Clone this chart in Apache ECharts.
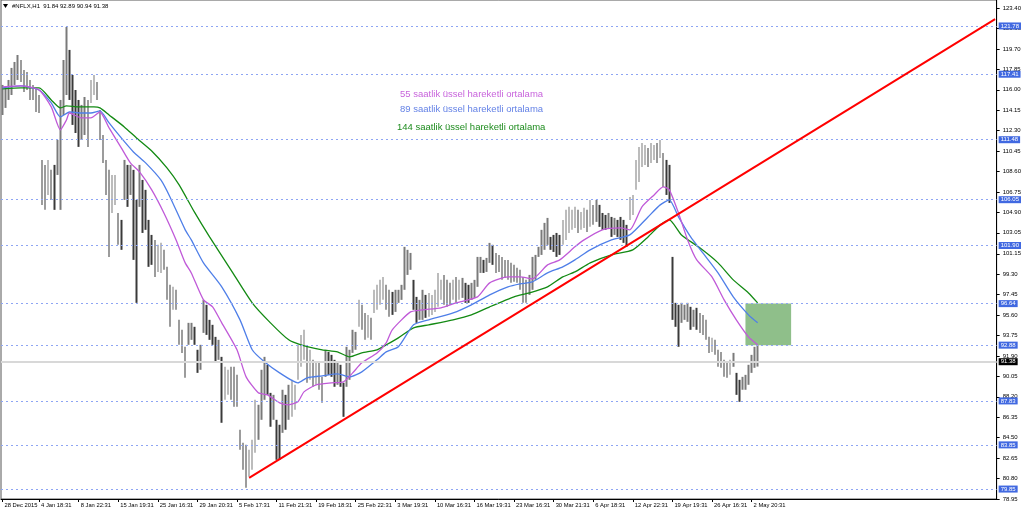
<!DOCTYPE html>
<html><head><meta charset="utf-8">
<script src="https://cdn.jsdelivr.net/npm/echarts@6.0.0/dist/echarts.min.js"></script>
<style>html,body{margin:0;padding:0;background:#fff}#c{width:1024px;height:514px}</style>
</head><body><div id="c"></div>
<script>
// ---- data ----
const barHighs = [
116.44,116.17,116.89,117.98,118.52,119.15,118.70,117.80,117.61,116.89,
116.44,116.17,115.53,109.65,109.20,109.65,108.75,109.20,111.46,115.08,
118.70,121.69,119.61,117.34,115.98,115.08,114.63,115.35,115.08,116.89,
117.34,116.71,114.18,111.91,109.65,108.75,108.29,108.29,104.85,104.22,
109.65,109.20,109.20,108.75,106.03,109.20,107.84,106.94,104.22,102.86,
102.41,101.96,102.14,101.51,99.97,98.34,98.16,97.89,95.17,94.27,
92.73,94.90,94.90,94.54,92.46,92.91,96.98,96.53,95.17,94.72,
93.63,93.36,91.82,90.92,90.65,90.92,90.92,90.19,85.22,84.04,
83.86,83.41,84.31,87.93,87.48,90.65,91.82,91.10,88.56,88.38,
86.12,85.67,88.84,88.38,89.29,89.74,89.29,92.91,93.81,94.27,
92.73,92.46,91.55,91.37,91.28,90.01,92.46,92.27,92.00,91.55,
91.37,91.10,89.47,92.73,92.46,94.27,94.08,96.98,96.53,95.80,
95.62,95.35,97.89,98.34,98.79,99.06,98.34,97.89,97.70,97.89,
97.89,98.34,101.78,101.51,101.23,98.79,97.25,96.98,97.89,97.43,
97.61,97.43,97.89,99.42,98.79,99.24,98.79,98.52,98.79,99.06,
98.79,98.97,98.52,98.34,98.52,98.79,100.87,100.87,100.60,100.78,
102.14,101.96,101.23,101.05,100.87,100.60,100.60,100.33,100.15,99.88,
99.70,99.06,98.79,99.24,100.87,101.05,101.78,103.32,103.95,104.40,
102.68,102.86,103.04,102.86,104.22,105.13,105.40,105.13,105.40,105.13,
104.94,105.31,105.13,106.03,105.58,106.03,105.58,104.85,104.67,104.85,
104.49,104.40,104.22,104.49,104.22,103.77,106.30,106.48,109.65,110.83,
111.19,111.01,110.74,111.19,111.01,111.19,111.46,110.28,109.65,109.20,
100.87,96.71,96.53,96.71,96.53,96.71,96.35,96.08,96.26,95.80,
95.62,95.17,93.63,93.54,93.36,92.46,92.27,91.55,91.37,91.55,
92.18,90.37,89.74,90.01,90.19,91.10,92.00,92.73,92.89
];
const barLows = [
113.72,114.36,115.08,115.53,116.44,116.89,116.71,115.80,115.98,115.08,
115.08,113.99,113.90,105.58,105.13,106.48,106.03,105.13,108.29,105.13,
113.72,115.53,115.08,112.82,112.09,110.83,111.46,111.91,110.83,114.81,
115.53,115.08,111.46,109.38,106.48,100.87,104.85,105.58,101.96,101.51,
106.03,105.40,106.48,100.60,96.71,105.40,103.04,103.32,99.97,100.15,
99.06,99.51,99.42,99.70,96.98,94.54,96.08,96.08,92.91,92.18,
89.92,92.91,93.36,92.91,90.37,90.65,93.99,93.81,93.36,92.91,
91.28,91.55,85.85,87.93,88.38,87.93,87.30,87.30,83.41,81.60,
79.97,80.96,81.60,83.13,84.31,86.12,87.93,88.38,85.49,86.12,
82.50,82.50,84.94,85.22,86.12,86.39,87.03,89.74,90.92,91.55,
89.47,89.74,89.11,89.29,88.84,87.66,90.01,90.19,90.01,89.11,
89.29,89.11,86.39,89.11,89.74,92.18,92.46,94.54,94.27,93.36,
93.54,93.36,95.80,96.08,96.53,96.98,96.08,95.44,95.62,95.89,
96.71,96.98,97.89,99.24,99.70,96.08,94.90,95.17,95.17,95.35,
95.44,95.62,95.89,96.35,96.98,96.53,96.35,96.53,96.98,96.71,
96.98,97.16,96.71,96.71,96.98,97.16,98.16,99.42,99.42,99.51,
100.33,100.15,99.42,99.51,98.79,98.97,98.79,98.52,98.61,98.52,
97.89,96.71,96.71,97.43,97.89,98.79,100.87,101.05,101.51,101.96,
101.51,101.32,100.87,101.05,101.96,102.41,103.04,103.32,103.49,103.04,
103.32,103.49,103.13,103.59,103.77,104.04,103.59,103.32,103.32,103.49,
102.68,102.86,102.68,102.41,102.14,101.78,104.22,104.67,106.94,107.66,
109.02,109.20,109.02,109.38,109.65,109.38,109.83,107.21,106.48,105.76,
95.17,94.54,92.73,94.90,95.17,94.99,94.27,94.54,94.27,93.99,
93.81,93.36,92.18,92.27,92.00,90.92,90.83,90.01,89.92,90.19,
90.92,88.38,87.75,88.84,88.84,89.29,90.37,90.83,90.94
];
// EMA curves: [bar index, price]
const ema55 = [[0,116.26],[6,116.35],[12,115.98],[16,114.45],[19,112.37],[21,113.27],[22,113.90],[26,113.45],[29,113.45],[32,113.99],[35,112.55],[39,110.74],[42,109.38],[45,108.57],[49,106.94],[53,104.85],[57,102.41],[60,100.33],[62,99.42],[66,96.98],[69,96.35],[72,94.90],[77,92.46],[80,90.01],[84,88.57],[87,88.38],[91,87.66],[94,87.48],[97,87.75],[99,88.65],[103,89.29],[108,89.47],[112,89.56],[115,90.37],[118,91.28],[123,92.18],[126,93.09],[128,94.27],[134,95.89],[138,96.08],[144,96.26],[149,96.71],[156,97.25],[160,98.52],[166,99.06],[170,99.06],[174,98.88],[179,100.15],[183,100.60],[188,101.78],[191,102.41],[197,103.32],[203,103.49],[206,103.32],[210,105.40],[214,106.48],[217,107.21],[219,106.94],[222,104.85],[225,102.41],[228,100.60],[233,99.06],[237,96.98],[241,95.17],[245,93.63],[248,92.91]];
const ema89 = [[0,116.17],[6,116.35],[12,115.98],[16,114.81],[19,113.54],[22,113.99],[26,113.90],[29,113.90],[32,114.09],[35,113.00],[39,111.64],[43,110.37],[47,109.38],[52,107.84],[55,106.30],[60,103.32],[62,102.41],[66,100.33],[72,98.16],[78,95.17],[82,92.46],[86,91.37],[91,90.37],[97,89.47],[100,89.92],[105,90.10],[110,90.28],[114,90.01],[118,90.46],[123,91.55],[126,92.27],[130,92.73],[135,94.72],[140,95.17],[148,95.80],[154,96.53],[160,97.43],[166,98.16],[170,98.43],[174,98.61],[179,99.42],[184,99.97],[188,100.60],[193,101.51],[200,102.41],[206,102.86],[212,104.49],[216,105.58],[219,106.03],[222,104.49],[226,102.68],[230,101.23],[235,99.42],[240,97.25],[245,95.62],[248,94.90]];
const ema144 = [[0,116.08],[6,116.17],[12,116.17],[16,115.08],[19,114.36],[21,114.54],[25,114.45],[30,114.45],[32,114.36],[35,113.72],[40,112.64],[44,111.64],[49,110.46],[54,108.93],[58,107.39],[63,104.94],[68,102.68],[75,99.70],[82,96.71],[88,94.90],[94,93.36],[98,92.91],[105,92.46],[110,92.27],[114,91.82],[118,92.18],[123,92.46],[126,92.91],[130,93.54],[135,94.45],[140,94.72],[148,95.17],[154,95.62],[160,96.35],[168,97.25],[173,97.61],[179,98.16],[184,99.06],[188,99.51],[193,100.33],[200,101.05],[207,101.51],[212,102.68],[216,103.77],[219,104.22],[223,102.86],[229,101.69],[235,100.33],[240,98.79],[245,97.61],[248,96.71]];
const trendLine = [[81,80.87],[326,122.40]];
const levelPrices = [121.78,117.41,111.48,106.05,101.90,96.64,92.88,87.83,83.85,79.85];
const lastPrice = 91.38;
const zoneBars = ['244','259'];
const zonePrices = [96.64,92.88];
const xLabelIdx = [0,12,25,38,51,64,77,90,103,116,129,142,155,168,181,194,207,220,233,246];
const xLabelText = ['28 Dec 2015','4 Jan 18:31','8 Jan 22:31','15 Jan 19:31','25 Jan 16:31','29 Jan 20:31','5 Feb 17:31','11 Feb 21:31','19 Feb 18:31','25 Feb 22:31','3 Mar 19:31','10 Mar 16:31','16 Mar 19:31','23 Mar 16:31','30 Mar 21:31','6 Apr 18:31','12 Apr 22:31','19 Apr 19:31','26 Apr 16:31','2 May 20:31'];
const yTickValues = [78.95,80.80,82.65,84.50,86.35,88.20,90.05,91.90,93.75,95.60,97.45,99.30,101.15,103.05,104.90,106.75,108.60,110.45,112.30,114.15,116.00,117.85,119.70,121.55,123.40];
const titleText = '#NFLX,H1  91.84 92.89 90.94 91.38';
const legendTexts = ['55 saatlik üssel hareketli ortalama','89 saatlik üssel hareketli ortalama','144 saatlik üssel hareketli ortalama'];

// ---- build ----
const N = 327;
const categories = Array.from({length: N}, (_, i) => String(i));
const labelMap = {}; xLabelIdx.forEach((k, j) => labelMap[k] = xLabelText[j]);
const isLabel = (i) => labelMap[i] !== undefined;
const candleData = barHighs.map((h, i) => {
  const l = barLows[i];
  const mid = (h + l) / 2;
  const pm = i ? (barHighs[i-1] + barLows[i-1]) / 2 : mid;
  return mid >= pm ? [l, h, l, h] : [h, l, l, h];
});
const FONT = 'Liberation Sans';
const chart = echarts.init(document.getElementById('c'), null, {renderer: 'canvas'});
chart.setOption({
  animation: false,
  backgroundColor: '#fff',
  grid: {left: 1, right: 27, top: 0, bottom: 15, show: true, borderColor: '#555', borderWidth: 1},
  xAxis: {
    type: 'category', data: categories, boundaryGap: true,
    axisLine: {show: true, lineStyle: {color: '#000', width: 1}},
    axisTick: {show: true, alignWithLabel: true, interval: (i) => isLabel(i), length: 3, lineStyle: {color: '#000'}},
    axisLabel: {interval: (i) => isLabel(i), formatter: (v, i) => labelMap[i] || '', align: 'left', padding: [0, 0, 0, 2],
      fontSize: 5.8, fontFamily: FONT, color: '#000', margin: 3},
    splitLine: {show: false}
  },
  yAxis: {
    type: 'value', position: 'right', min: 78.95, max: 124.13, scale: true,
    axisLine: {show: true, lineStyle: {color: '#000'}},
    axisTick: {show: true, length: 3, customValues: yTickValues, lineStyle: {color: '#000'}},
    axisLabel: {customValues: yTickValues, formatter: (v) => Number(v).toFixed(2), fontSize: 6, fontFamily: FONT, color: '#000', margin: 6},
    splitLine: {show: false}
  },
  series: [
    {
      name: 'levels', type: 'line', data: [], z: 1, silent: true,
      markLine: {
        silent: true, symbol: ['none', 'none'], animation: false,
        lineStyle: {color: '#8ea5f3', type: [2, 3], width: 1},
        label: {show: true, position: 'end', distance: 2, formatter: (p) => Number(p.value).toFixed(2),
          color: '#fff', backgroundColor: '#4169e1', fontSize: 6, fontFamily: FONT, padding: [1, 2, 0, 2]},
        data: levelPrices.map(v => ({yAxis: v})).concat([{
          yAxis: lastPrice, lineStyle: {type: 'solid', color: '#d8d8d8', width: 2},
          label: {backgroundColor: '#000', color: '#fff'}
        }])
      },
      markArea: {
        silent: true, itemStyle: {color: '#8fbf8a', opacity: 1},
        data: [[{xAxis: zoneBars[0], yAxis: zonePrices[0]}, {xAxis: zoneBars[1], yAxis: zonePrices[1]}]]
      }
    },
    {
      name: 'NFLX', type: 'candlestick', data: candleData, z: 3, barWidth: 2,
      itemStyle: {color: '#7a7a7a', color0: '#3a3a3a', borderColor: '#7a7a7a', borderColor0: '#3a3a3a', borderWidth: 0}
    },
    {name: 'EMA144', type: 'line', data: ema144, z: 4, symbol: 'none', smooth: 0.2, lineStyle: {color: '#138a13', width: 1.3}},
    {name: 'EMA89', type: 'line', data: ema89, z: 4, symbol: 'none', smooth: 0.2, lineStyle: {color: '#4f7fe8', width: 1.3}},
    {name: 'EMA55', type: 'line', data: ema55, z: 4, symbol: 'none', smooth: 0.2, lineStyle: {color: '#c05ad8', width: 1.3}},
    {name: 'trend', type: 'line', data: trendLine, z: 5, symbol: 'none', lineStyle: {color: '#ff0000', width: 2}}
  ],
  graphic: [
    {type: 'polygon', shape: {points: [[3, 4], [8, 4], [5.5, 8]]}, style: {fill: '#000'}},
    {type: 'text', x: 12, y: 6, style: {text: titleText, fill: '#000', font: '6px "Liberation Sans"', verticalAlign: 'middle'}},
    {type: 'text', x: 400, y: 94, style: {text: legendTexts[0], fill: '#c864dc', font: '9.5px "Liberation Sans"', verticalAlign: 'middle'}},
    {type: 'text', x: 400, y: 109, style: {text: legendTexts[1], fill: '#6482e6', font: '9.5px "Liberation Sans"', verticalAlign: 'middle'}},
    {type: 'text', x: 397, y: 127, style: {text: legendTexts[2], fill: '#1e8c1e', font: '9.5px "Liberation Sans"', verticalAlign: 'middle'}}
  ]
});
</script></body></html>
